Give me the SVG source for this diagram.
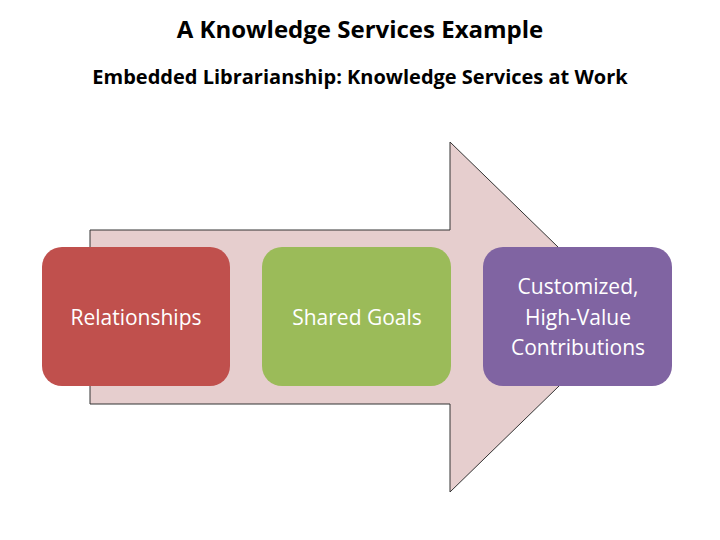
<svg xmlns="http://www.w3.org/2000/svg" width="720" height="540" viewBox="0 0 720 540">
<style>
.t{font-family:"Open Sans","Liberation Sans",sans-serif;font-weight:bold;fill:#000;text-anchor:middle}
.b{font-family:"Open Sans","Liberation Sans",sans-serif;font-size:21px;fill:#fff;text-anchor:middle}
</style>
<rect width="720" height="540" fill="#fff"/>
<text class="t" x="360" y="38" font-size="24">A Knowledge Services Example</text>
<text class="t" x="360" y="84" font-size="20">Embedded Librarianship: Knowledge Services at Work</text>
<g id="connectors">
<path d="M90 230 H450 V142 L630 317 L450 492 V404 H90 Z" fill="#E6CECE" stroke="#333" stroke-width="1"/>
</g>
<g id="relationships">
<rect x="42" y="247" width="188" height="139" rx="20" fill="#C0504D"/>
<text class="b" x="136" y="325">Relationships</text>
</g>
<g id="shared-goals">
<rect x="262" y="247" width="189" height="139" rx="20" fill="#9BBB59"/>
<text class="b" x="357" y="325">Shared Goals</text>
</g>
<g id="contributions">
<rect x="483" y="247" width="189" height="139" rx="20" fill="#8064A2"/>
<text class="b" x="578" y="294">Customized,</text>
<text class="b" x="578" y="325">High-Value</text>
<text class="b" x="578" y="355">Contributions</text>
</g>
</svg>
